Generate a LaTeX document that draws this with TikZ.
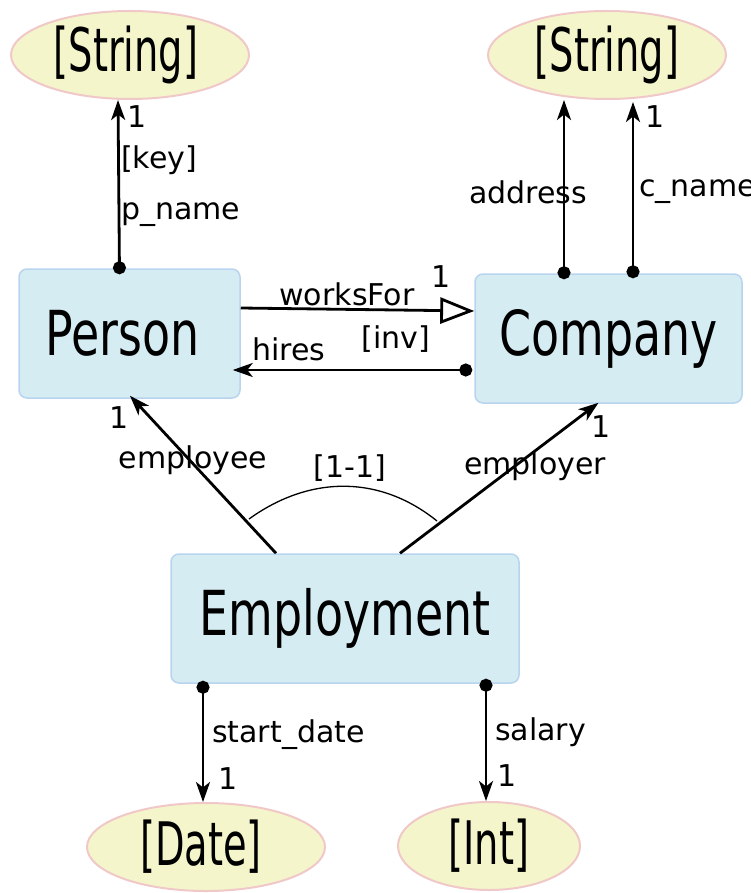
\documentclass[tikz,border=0pt]{standalone}
\usepackage{fontspec}
\setmainfont{DejaVu Sans}
\newfontfamily\boxfont{DejaVu Sans}[FakeStretch=0.74]
\newfontfamily\typefont{DejaVu Sans}[FakeStretch=0.64]
\usetikzlibrary{arrows.meta,shapes.geometric}
\definecolor{entfill}{HTML}{D5ECF3}
\definecolor{entline}{HTML}{B8D4EE}
\definecolor{valfill}{HTML}{F5F5CC}
\definecolor{valline}{HTML}{F0C8C8}
\tikzset{
  entity/.style={draw=entline,line width=1.5pt,fill=entfill,rounded corners=8pt,
    inner sep=0pt,minimum height=129pt,font=\boxfont\fontsize{62}{64}\selectfont},
  value/.style={ellipse,draw=valline,line width=2pt,fill=valfill,inner sep=0pt,
    minimum width=238pt,minimum height=88pt,font=\typefont\fontsize{60}{62}\selectfont},
  lbl/.style={inner sep=0pt,font=\fontsize{30}{32}\selectfont},
  role/.style={line width=2.8pt,-{Stealth[length=20pt,width=14pt,inset=5.5pt]}},
  attr/.style={line width=2.8pt,{Circle[length=13pt]}-{Stealth[length=20pt,width=14pt,inset=5.5pt]}}
}
\begin{document}
\begin{tikzpicture}[x=1pt,y=-1pt]
\useasboundingbox (0,0) rectangle (751,893);
\clip (0,0) rectangle (751,893);
\node[entity,minimum width=221pt] (person) at (129.5,333.5) {Person\hspace*{14pt}};
\node[entity,minimum width=267pt] (company) at (608.5,338.5) {Company};
\node[entity,minimum width=348pt] (employment) at (345,618.5) {Employment};
\node[value] (pstr) at (130,55) {[String]\hspace*{8pt}};
\node[value] (cstr) at (607,55) {[String]};
\node[value] (date) at (206,847) {[Date]\hspace*{10pt}};
\node[value,minimum width=182pt] (int) at (489,846) {[Int]};
% attributes
\draw[attr] ([xshift=-10pt,yshift=-6pt]person.north) -- ([xshift=-12pt]pstr.south);
\draw[attr] ([xshift=-44.5pt,yshift=-6pt]company.north) -- ([xshift=-43pt]cstr.south);
\draw[attr] ([xshift=24.5pt,yshift=-5pt]company.north) -- ([xshift=26pt,yshift=-2pt]cstr.south);
\draw[attr] ([xshift=-142pt,yshift=3pt]employment.south) -- ([xshift=-3pt]date.north);
\draw[attr] ([xshift=141pt,yshift=5pt]employment.south) -- ([xshift=-3pt]int.north);
% relations
\draw[line width=2.8pt,-{Triangle[open,length=34pt,width=26pt]}]
  ([yshift=25.5pt]person.east) -- ([yshift=27.5pt]company.west);
\draw[attr] ([xshift=-2pt,yshift=-31.5pt]company.west) -- ([xshift=-8pt,yshift=-36.5pt]person.east);
\draw[role] ([xshift=-69pt]employment.north) -- ([xshift=0.5pt,yshift=3pt]person.south);
\draw[role] ([xshift=55pt]employment.north) -- ([xshift=-10pt,yshift=1pt]company.south);
\draw[line width=1.3pt] (249,519) .. controls (310,475) and (380,475) .. (437,521);
% labels
\node[lbl] (m1) at (137,117) {1};
\node[lbl,anchor=west] (key) at (121,160) {[key]};
\node[lbl,anchor=west] (pname) at (121,215) {p\_name};
\node[lbl] (addr) at (528,192) {address};
\node[lbl] (m2) at (655,117) {1};
\node[lbl,anchor=west] (cname) at (639,192) {c\_name};
\node[lbl] (works) at (347,294) {worksFor};
\node[lbl] (m3) at (441,277) {1};
\node[lbl] (hires) at (289,349) {hires};
\node[lbl] (inv) at (396,339) {[inv]};
\node[lbl] (m4) at (119,418) {1};
\node[lbl] (emp1) at (193,460) {employee};
\node[lbl] (card) at (350,468) {[1-1]};
\node[lbl] (emp2) at (535,466) {employer};
\node[lbl] (m5) at (601,427) {1};
\node[lbl,anchor=west] (sdate) at (212,735) {start\_date};
\node[lbl] (m6) at (228,779) {1};
\node[lbl,anchor=west] (sal) at (495,732) {salary};
\node[lbl] (m7) at (507,776) {1};
\end{tikzpicture}
\end{document}
